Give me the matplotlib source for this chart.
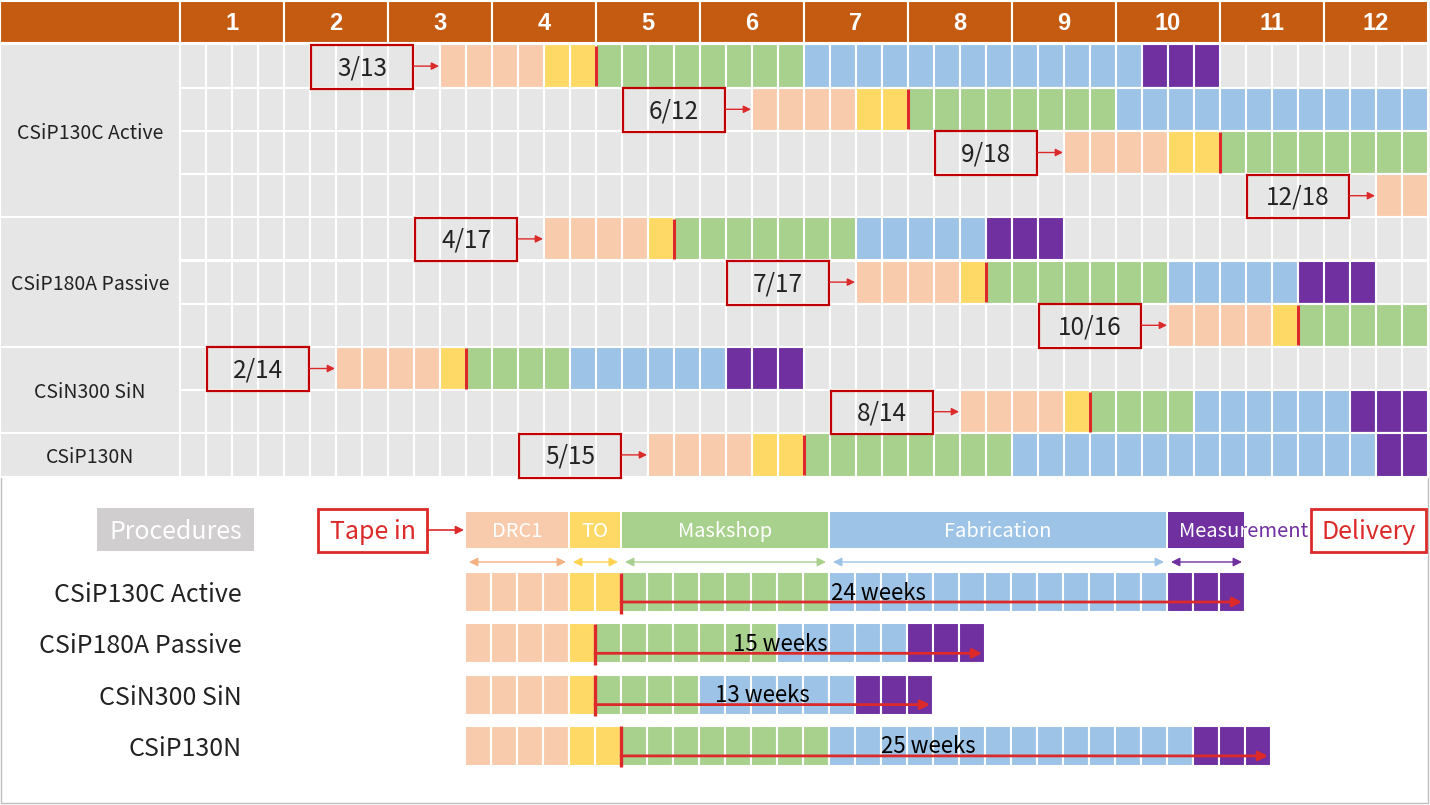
import matplotlib
matplotlib.use("Agg")
import matplotlib.pyplot as plt
from matplotlib.patches import Rectangle
from matplotlib.transforms import Bbox, TransformedBbox

plt.rcParams['font.family'] = ['Noto Sans CJK SC', 'DejaVu Sans']

# ---- schedule data ----
months = list(range(1, 13))
products = ["CSiP130C Active", "CSiP180A Passive", "CSiN300 SiN", "CSiP130N"]
phases = ["DRC1", "TO", "Maskshop", "Fabrication", "Measurement"]
drc_weeks = [4, 4, 4, 4]
to_weeks = [2, 1, 1, 2]
mask_weeks = [8, 7, 4, 8]
fab_weeks = [13, 5, 6, 14]
meas_weeks = [3, 3, 3, 3]
tapein_dates = [["3/13", "6/12", "9/18", "12/18"],
                ["4/17", "7/17", "10/16"],
                ["2/14", "8/14"],
                ["5/15"]]
start_weeks = [[10, 22, 34, 46], [14, 26, 38], [6, 30], [18]]

# ---- style ----
phase_colors = ["#F8CBAD", "#FFD966", "#A9D18E", "#9DC3E6", "#7030A0"]
arrow_colors = ["#F4B183", "#FFD34D", "#A9D18E", "#9DC3E6", "#7030A0"]
GRAY = "#E7E6E6"
ORANGE = "#C55A11"
RED = "#DC2A2A"
DARK_RED = "#C00000"
TXT = "#222222"
LIGHT = "light"

W, H = 1430, 805
X0, WW = 180, 26.0       # week columns
Y0, RH = 44.5, 43.2      # gantt rows
NWEEKS = 48
LX0 = 465                # bottom summary start
BY0, BSP, BH = 572, 51.3, 40
text_frac = [0.41, 0.47, 0.49, 0.47]

durations = list(zip(drc_weeks, to_weeks, mask_weeks, fab_weeks, meas_weeks))

fig = plt.figure(figsize=(W / 100, H / 100), dpi=100)
ax = fig.add_axes([0, 0, 1, 1])
ax.set_xlim(0, W)
ax.set_ylim(H, 0)
ax.axis("off")

# frame
ax.add_patch(Rectangle((0.5, 0.5), 1427.5, 802.5, fill=False, ec="#BFBFBF", lw=1, zorder=0))

# header
ax.add_patch(Rectangle((0, 1.5), X0, 41.5, fc=ORANGE, ec="white", lw=1.5))
for i, m in enumerate(months):
    x = X0 + i * 4 * WW
    ax.add_patch(Rectangle((x, 1.5), 4 * WW, 41.5, fc=ORANGE, ec="white", lw=1.5))
    ax.text(x + 2 * WW, 23, str(m), ha="center", va="center", color="white",
            fontsize=17, fontweight="bold", family="Liberation Sans")


def arrow(x1, y1, x2, y2, color, lw=1.0, ms=11, style="-|>", z=5):
    ax.annotate("", xy=(x2, y2), xytext=(x1, y1), zorder=z,
                arrowprops=dict(arrowstyle=style, color=color, lw=lw,
                                mutation_scale=ms, shrinkA=0, shrinkB=0))


# gantt rows
row = 0
for p, name in enumerate(products):
    n = len(start_weeks[p])
    gy = Y0 + row * RH
    ax.add_patch(Rectangle((0, gy), X0, n * RH, fc=GRAY, ec="white", lw=1.5))
    ax.text(X0 / 2, gy + n * RH / 2 + 2.5, name, ha="center", va="center",
            fontsize=14, color=TXT, fontweight=LIGHT)
    for k, (s, lab) in enumerate(zip(start_weeks[p], tapein_dates[p])):
        y = gy + k * RH
        for w in range(NWEEKS):
            ax.add_patch(Rectangle((X0 + w * WW, y), WW, RH, fc=GRAY, ec="white", lw=1.5))
        w = s
        for c, d in zip(phase_colors, durations[p]):
            for _ in range(d):
                if w < NWEEKS:
                    ax.add_patch(Rectangle((X0 + w * WW, y), WW, RH, fc=c, ec="white", lw=1.5))
                w += 1
        wm = s + durations[p][0] + durations[p][1]
        if wm < NWEEKS:
            xm = X0 + wm * WW
            ax.plot([xm, xm], [y + 1.5, y + RH - 1.5], color=RED, lw=2.2,
                    solid_capstyle="butt", zorder=4)
        bx0 = X0 + (s - 4.95) * WW
        bx1 = X0 + (s - 1.05) * WW
        ax.add_patch(Rectangle((bx0, y + 0.5), bx1 - bx0, RH + 0.5, fill=False,
                               ec=DARK_RED, lw=1.6, zorder=5))
        ax.text((bx0 + bx1) / 2, y + RH / 2 + 2, lab, ha="center", va="center",
                fontsize=17.5, color=TXT, zorder=6, fontweight=LIGHT)
        arrow(bx1 + 1, y + RH / 2, X0 + s * WW - 1, y + RH / 2, RED)
    row += n

# ---- bottom: procedures legend ----
ax.add_patch(Rectangle((97, 508), 157, 43, fc="#D0CECE", ec="none"))
ax.text(175.5, 531.5, "Procedures", ha="center", va="center", color="white",
        fontsize=18, fontweight=LIGHT)

ax.add_patch(Rectangle((318, 509), 109, 43, fill=False, ec=RED, lw=2))
ax.text(372.5, 531.5, "Tape in", ha="center", va="center", color=RED, fontsize=18,
        fontweight=LIGHT)
arrow(427, 530, LX0 - 1, 530, RED, lw=1.2, ms=12)

ax.add_patch(Rectangle((1311, 509), 115, 43, fill=False, ec=RED, lw=2))
ax.text(1368.5, 531.5, "Delivery", ha="center", va="center", color=RED, fontsize=18,
        fontweight=LIGHT)

cum = 0
for i, (ph, d) in enumerate(zip(phases, durations[0])):
    xa = LX0 + cum * WW
    xb = LX0 + (cum + d) * WW
    ax.add_patch(Rectangle((xa + 1, 512), xb - xa - 2, 36, fc=phase_colors[i], ec="none"))
    if ph == "Measurement":
        ax.text(xa + 12, 531.5, ph, ha="left", va="center", color=phase_colors[i],
                fontsize=14.5, fontweight=LIGHT)
        t = ax.text(xa + 12, 531.5, ph, ha="left", va="center", color="white",
                    fontsize=14.5, fontweight=LIGHT, zorder=6)
        t.set_clip_box(TransformedBbox(Bbox([[xa + 1, 512], [xb - 1, 548]]), ax.transData))
        t.set_clip_on(True)
    else:
        ax.text((xa + xb) / 2, 531.5, ph, ha="center", va="center", color="white",
                fontsize=14.5, fontweight=LIGHT)
    arrow(xa + 4, 562, xb - 3, 562, arrow_colors[i], lw=1.0, ms=13, style="<|-|>")
    cum += d

# ---- bottom: per-product durations ----
for p, name in enumerate(products):
    top = BY0 + p * BSP
    ax.text(242, top + BH / 2 + 3, name, ha="right", va="center", fontsize=18,
            color=TXT, fontweight=LIGHT)
    w = 0
    for c, d in zip(phase_colors, durations[p]):
        for _ in range(d):
            ax.add_patch(Rectangle((LX0 + w * WW, top), WW, BH, fc=c, ec="white", lw=1.5))
            w += 1
    xm = LX0 + (durations[p][0] + durations[p][1]) * WW
    xe = LX0 + w * WW - 3
    ax.plot([xm, xm], [top + 0.5, top + BH + 1.5], color=RED, lw=2.4,
            solid_capstyle="butt", zorder=4)
    arrow(xm, top + 30, xe, top + 30, RED, lw=2, ms=14)
    weeks = durations[p][2] + durations[p][3] + durations[p][4]
    ax.text(xm + text_frac[p] * (xe - xm) + 3, top + BH / 2 + 1, f"{weeks} weeks",
            ha="center", va="center", fontsize=16, color="black", zorder=6,
            fontweight=LIGHT)

fig.savefig("out.png", dpi=100)
